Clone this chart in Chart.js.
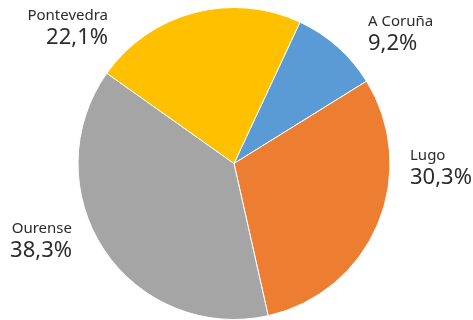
<!DOCTYPE html>
<html>
<head>
<meta charset="utf-8">
<script src="https://cdn.jsdelivr.net/npm/chart.js@4/dist/chart.umd.min.js"></script>
<style>
  html, body { margin: 0; padding: 0; background: #fff; }
  #wrap { width: 473px; height: 320px; }
</style>
</head>
<body>
<div id="wrap"><canvas id="chartProvincias"></canvas></div>
<script>
const provincias = ['A Coruña', 'Lugo', 'Ourense', 'Pontevedra'];
const porcentajes = [9.2, 30.3, 38.3, 22.1];
const colores = ['#5B9BD5', '#ED7D31', '#A5A5A5', '#FFC000'];

// donde va cada etiqueta, relativo al centro de la tarta
const posEtiquetas = [
    { dx: 134, dy: -142, align: 'left' },
    { dx: 176, dy: -8, align: 'left' },
    { dx: -162, dy: 65, align: 'right' },
    { dx: -126, dy: -148, align: 'right' }
]

const etiquetas = {
    id: 'etiquetas',
    afterDatasetsDraw(chart) {
        const ctx = chart.ctx
        const meta = chart.getDatasetMeta(0)
        ctx.save()
        ctx.fillStyle = '#2b2b2b'
        ctx.textBaseline = 'middle'
        meta.data.forEach((arc, i) => {
            const p = posEtiquetas[i]
            const x = arc.x + p.dx
            const y = arc.y + p.dy
            ctx.textAlign = p.align
            ctx.font = '15px "Noto Sans"'
            ctx.fillText(provincias[i], x, y)
            ctx.font = '22px "Noto Sans"'
            const valor = porcentajes[i].toFixed(1).replace('.', ',') + '%'
            ctx.fillText(valor, x, y + 22)
        })
        ctx.restore()
    }
}

const chart = new Chart(document.getElementById('chartProvincias'), {
    type: 'pie',
    data: {
        labels: provincias,
        datasets: [{
            data: porcentajes,
            backgroundColor: colores,
            borderColor: '#fff',
            borderWidth: 1,
            hoverOffset: 0
        }]
    },
    options: {
        responsive: true,
        maintainAspectRatio: false,
        animation: false,
        rotation: 25,
        layout: { padding: { top: 7, bottom: 0, left: 0, right: 5 } },
        plugins: {
            legend: { display: false },
            tooltip: { enabled: false }
        },
        events: []
    },
    plugins: [etiquetas]
})
</script>
</body>
</html>
